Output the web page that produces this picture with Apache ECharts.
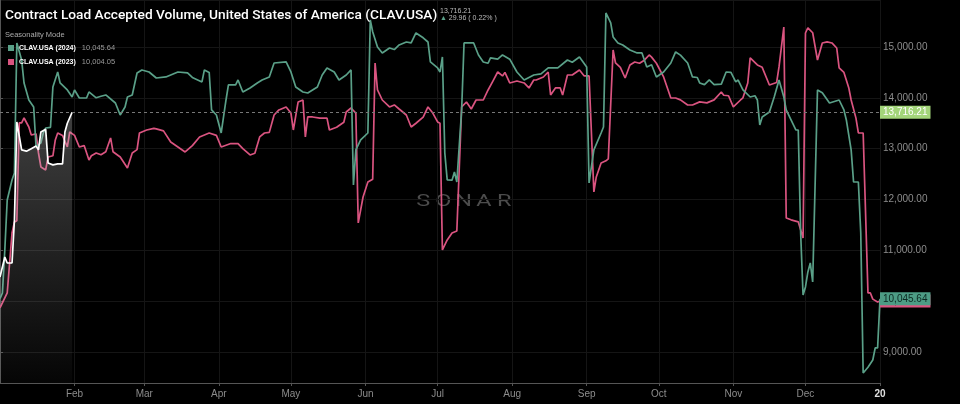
<!DOCTYPE html>
<html><head><meta charset="utf-8">
<script src="https://cdn.jsdelivr.net/npm/echarts@6/dist/echarts.min.js"></script>
<style>html,body{margin:0;padding:0;background:#000}#c{width:960px;height:404px}</style>
</head><body><div id="c"></div><script>
// Day offsets from Jan 1 (seasonality axis) and values
const greenDays = [0,1,2,3,5,6,7,9,10,12,14,15,17,18,19,21,22,24,25,28,30,31,33,36,37,40,42,44,48,50,52,53,55,57,59,62,65,69,74,78,80,84,85,87,88,90,92,94,95,98,99,101,104,107,109,112,114,119,121,123,126,128,132,134,136,139,141,144,146,147,148,150,153,154,155,157,159,162,164,166,169,171,173,176,178,179,182,183,184,185,186,188,189,190,192,193,197,199,201,203,204,207,209,212,215,218,222,225,228,232,236,238,241,244,245,247,250,251,252,254,255,257,259,262,265,267,269,271,273,276,279,281,283,286,288,290,291,293,295,297,300,302,304,306,307,309,312,314,315,316,317,320,322,324,326,327,329,331,332,333,334,335,336,337,338,340,342,345,349,351,352,354,355,357,358,359,361,363,364,365,366];
const greenVals = [10050,10161,11007,11990,12384,12520,15080,14744,14292,13957,13820,13033,13112,13308,13406,13420,14213,14508,14292,14154,14016,14154,13996,13996,14115,14000,14030,14056,13898,13662,13820,14016,14056,14489,14548,14508,14390,14410,14508,14489,14400,14312,14548,14500,13761,13662,13308,13957,14253,14253,14351,14115,14194,14292,14351,14410,14685,14705,14508,14213,14115,14095,14213,14449,14587,14508,14351,14449,14548,12286,12975,13171,13308,15531,15300,15000,14882,14980,14950,15039,15098,15080,15275,15180,15098,14705,14587,14508,14803,12915,12384,12380,12540,12344,13761,15079,15079,14843,14705,14680,14784,14760,14843,14760,14508,14351,14449,14470,14587,14587,14744,14700,14803,14607,12325,12975,13308,13426,15669,15472,15197,15079,15040,14941,14882,14882,14607,14650,14410,14508,14685,14902,14840,14685,14410,14400,14292,14260,14351,14260,14270,14508,14500,14312,14350,14154,14016,14040,13957,13466,13623,13721,14016,14351,14016,13761,13564,13367,13367,11341,10122,10279,10574,10751,10377,14154,14100,13898,13957,13761,13564,12975,12344,12344,11341,8587,8700,8843,9079,9080,10045.64];

const pinkDays = [0,3,5,6,7,8,9,10,12,13,15,16,17,19,20,22,23,24,26,28,29,31,33,35,37,38,40,42,44,46,47,50,53,55,57,58,61,64,65,68,71,74,77,80,83,87,90,92,96,99,101,104,106,108,110,112,114,116,119,121,122,124,126,127,128,130,133,136,137,140,143,144,146,148,149,151,153,155,156,157,159,162,164,166,169,171,173,176,178,180,182,183,184,186,188,190,192,194,196,198,201,203,205,207,209,210,212,215,218,220,222,223,226,228,229,231,233,234,236,238,241,243,245,247,248,250,252,253,255,256,258,260,262,264,266,268,270,271,273,276,279,281,283,286,288,291,294,297,300,301,303,305,308,309,311,312,315,317,320,323,324,326,327,329,332,334,335,336,338,340,342,344,346,348,349,351,353,354,356,357,359,361,362,363,365,366];
const pinkVals = [9870,10161,11341,11557,11580,13505,13505,13603,13426,13269,13290,12915,12640,12581,12836,12860,13171,13308,13260,13033,13328,13260,13033,13060,12777,12860,12915,12880,12940,13210,12940,12836,12620,12915,12980,13308,13367,13400,13390,13350,13131,13033,12935,13060,13230,13308,13260,13033,13100,13100,13000,12876,12910,13230,13308,13320,13662,13761,13820,13700,13367,13918,13957,13230,13623,13623,13600,13600,13367,13420,13520,13721,13800,13700,11538,12049,12344,12400,14685,14154,13957,13820,13860,13780,13662,13426,13500,13620,13820,13700,13525,13500,11007,11204,11341,11380,13820,13918,13780,13957,13957,14154,14330,14508,14430,14500,14292,14330,14292,14194,14350,14350,14410,14508,14056,14194,14194,14056,14449,14449,14548,14430,14430,12148,12443,12718,12760,12800,14941,14685,14600,14390,14646,14705,14680,14740,14843,14800,14680,14410,13996,13996,13960,13859,13859,13920,13900,13960,14115,14050,14040,13820,13957,14000,14292,14784,14646,14600,14253,14300,14607,15393,11636,11600,11560,11243,15275,15374,15280,14744,15079,15100,15079,14980,14587,14500,14200,13957,13600,13308,13308,10161,10161,10040,9984,10004.05];

const whiteDays = [0,2,3,5,6,7,9,11,13,15,16,17,19,20,22,24,26,27,28,30];
const whiteVals = [10476,10869,10751,10751,11597,13525,12975,12950,13000,13050,12975,13328,13380,12718,12680,12700,12700,13328,13500,13716.21];

const seriesNames = ['CLAV.USA (2024)','CLAV.USA (2023)'];
const legendValues = ['10,045.64','10,004.05'];
const tickLabels = ['Feb','Mar','Apr','May','Jun','Jul','Aug','Sep','Oct','Nov','Dec','20'];
const lastValue = 13716.21, greenLast = 10045.64, pinkLast = 10004.05;

const DAY = 864e5, base = new Date(2024,0,1).getTime();
const tickDays = []; for (let m=1; m<=12; m++) tickDays.push(Math.round((new Date(2024,m,1).getTime()-base)/DAY));
function pairs(days, vals){ return days.map((d,i)=>[d, vals[i]]); }
function fmt(v){ return v.toLocaleString('en-US',{minimumFractionDigits:2,maximumFractionDigits:2}); }

const GREEN='#5aa088', PINK='#da5480';
const chart = echarts.init(document.getElementById('c'));
chart.setOption({
  backgroundColor:'#000',
  animation:false,
  textStyle:{fontFamily:'Liberation Sans, Arial, sans-serif'},
  title:[
    {text:'Contract Load Accepted Volume, United States of America (CLAV.USA)', left:5, top:9, padding:0,
     textStyle:{color:'#fff', fontSize:13.7, fontWeight:500, fontFamily:'Roboto'}},
    {text:'13,716.21', left:440, top:8, padding:0, textStyle:{color:'#bbb', fontSize:7, fontWeight:'normal'}},
    {text:'{a|▲} 29.96 ( 0.22% )', left:440, top:15, padding:0, textStyle:{color:'#bbb', fontSize:7, fontWeight:'normal', rich:{a:{color:GREEN, fontSize:7}}}},
    {text:'Seasonality Mode', left:5, top:31, padding:0, textStyle:{color:'#aaa', fontSize:7.5, fontWeight:'normal'}}
  ],
  legend:{orient:'vertical', left:8, top:44, padding:0, itemWidth:6, itemHeight:6, itemGap:6, icon:'rect',
    data:seriesNames,
    formatter:function(n){ return '{n|'+n+'}{v|'+legendValues[seriesNames.indexOf(n)]+'}'; },
    textStyle:{color:'#fff', fontSize:7,
      rich:{n:{color:'#fff', fontSize:7, fontWeight:'bold'},
            v:{color:'#9a9a9a', fontSize:7.5, padding:[0,0,0,6]}}}
  },
  graphic:[{type:'text', x:413, y:193, scaleX:1.38, silent:true, z:0,
    style:{text:'{a|S}{a|O}{a|N}{a|A}{a|R}', rich:{a:{width:14.7, align:'center', fontSize:17, fontFamily:'Roboto', fontWeight:400, fill:'#4c4c4c'}}}}],
  grid:{left:0, right:80, top:0, bottom:21},
  xAxis:{type:'value', min:0, max:366,
    axisLine:{lineStyle:{color:'#555'}},
    axisTick:{show:true, length:3, customValues:tickDays, lineStyle:{color:'#555'}},
    splitLine:{show:true, lineStyle:{color:'#151515'}},
    axisLabel:{color:'#8c8c8c', fontSize:10, margin:6, customValues:tickDays,
      formatter:function(v){ const i=tickDays.indexOf(v); return i===tickLabels.length-1?'{y|'+tickLabels[i]+'}':(tickLabels[i]||''); },
      rich:{y:{color:'#e0e0e0', fontWeight:'bold', fontSize:10}}}
  },
  yAxis:{type:'value', position:'right', min:8390, max:15924, splitNumber:8,
    axisLine:{show:true, lineStyle:{color:'#555'}},
    axisTick:{show:true, length:3, lineStyle:{color:'#555'}},
    splitLine:{show:true, lineStyle:{color:'#151515'}},
    axisLabel:{color:'#8c8c8c', fontSize:10, margin:3, showMinLabel:false, showMaxLabel:false,
      formatter:function(v){ return v===10000?'':fmt(v); }}
  },
  series:[
    {name:seriesNames[1], type:'line', data:pairs(pinkDays,pinkVals), showSymbol:false, z:2,
     itemStyle:{color:PINK}, lineStyle:{color:PINK, width:1.7},
     markLine:{symbol:'none', silent:true, data:[{yAxis:pinkLast}], lineStyle:{color:'rgba(0,0,0,0)', width:1},
       label:{show:true, position:'end', distance:0, formatter:fmt(pinkLast), backgroundColor:PINK, color:'#3a0f1e', fontSize:10, padding:[2,3,1,3]}}},
    {name:seriesNames[0], type:'line', data:pairs(greenDays,greenVals), showSymbol:false, z:3,
     itemStyle:{color:GREEN}, lineStyle:{color:GREEN, width:1.7},
     markLine:{symbol:'none', silent:true, data:[{yAxis:greenLast}], lineStyle:{color:'rgba(0,0,0,0)', width:1},
       label:{show:true, position:'end', distance:0, formatter:fmt(greenLast), backgroundColor:'#4d9c85', color:'#0c2a22', fontSize:10, padding:[2,3,1,3]}}},
    {name:'CLAV.USA (2025)', type:'line', data:pairs(whiteDays,whiteVals), showSymbol:false, z:4,
     itemStyle:{color:'#fff'}, lineStyle:{color:'#fff', width:1.7},
     areaStyle:{color:new echarts.graphic.LinearGradient(0,0,0,1,[{offset:0,color:'rgba(200,200,200,0.45)'},{offset:1,color:'rgba(200,200,200,0.04)'}])},
     markLine:{symbol:'none', silent:true, data:[{yAxis:lastValue}], lineStyle:{color:'#777', type:[3,3], width:1},
       label:{show:true, position:'end', distance:0, formatter:fmt(lastValue), backgroundColor:'#a3d57a', color:'#fff', fontSize:10, padding:[2,3,1,3]}}}
  ]
});
</script></body></html>
